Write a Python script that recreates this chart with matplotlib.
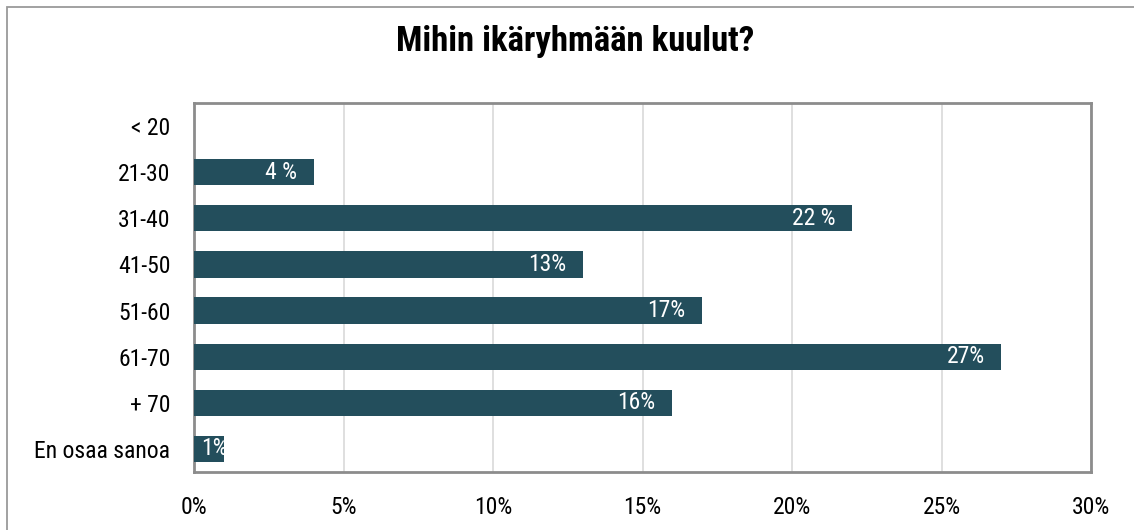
import matplotlib.pyplot as plt
from matplotlib.patches import Rectangle
from matplotlib import font_manager

# age groups and share of answers (%)
groups = ["< 20", "21-30", "31-40", "41-50", "51-60", "61-70", "+ 70", "En osaa sanoa"]
values = [0, 4, 22, 13, 17, 27, 16, 1]
labels = ["", "4 %", "22 %", "13%", "17%", "27%", "16%", "1%"]
ticks = [0, 5, 10, 15, 20, 25, 30]

# pick a narrow sans like Arial Narrow
names = {f.name for f in font_manager.fontManager.ttflist}
fam = "DejaVu Sans"
for cand in ["Liberation Sans Narrow", "Arial Narrow", "Roboto Condensed", "PT Sans Narrow", "Archivo Narrow"]:
    if cand in names:
        fam = cand
        break
plt.rcParams["font.family"] = [fam, "DejaVu Sans"]

fig = plt.figure(figsize=(11.34, 5.30), dpi=100)
ax = fig.add_axes([194 / 1134, 1 - 472 / 530, (1091 - 194) / 1134, (472 - 103) / 530])

# outer chart border
fig.patches.append(Rectangle((7 / 1134, -0.1), 1.2, 1 - 7 / 530 + 0.1, transform=fig.transFigure,
                             fill=False, edgecolor="#9a9a9a", linewidth=1.3))

ypos = list(range(len(groups)))
bars = ax.barh(ypos, values, height=0.57, color="#234e5c", zorder=3)
for b, v, t in zip(bars, values, labels):
    if not t:
        continue
    yc = b.get_y() + b.get_height() / 2
    if v >= 2:
        txt = ax.annotate(t, (v, yc), xytext=(-12, 0), textcoords="offset points",
                          ha="right", va="center", color="white", fontsize=17, zorder=4)
    else:
        # too narrow: Excel clips the label at the bar end
        txt = ax.annotate(t, (0, yc), xytext=(5, 0), textcoords="offset points",
                          ha="left", va="center", color="white", fontsize=17, zorder=4)
        txt.set_clip_path(b)

ax.set_xlim(0, 30)
ax.set_ylim(len(groups) - 0.5, -0.5)
ax.set_yticks(ypos)
ax.set_yticklabels(groups, fontsize=17)
ax.set_xticks(ticks)
ax.set_xticklabels([f"{t}%" for t in ticks], fontsize=17)
ax.tick_params(length=0)
ax.tick_params(axis="x", pad=17)
ax.tick_params(axis="y", pad=17)
ax.grid(axis="x", color="#d9d9d9", linewidth=1.2, zorder=0)
for s in ax.spines.values():
    s.set_color("#8c8c8c")
    s.set_linewidth(2)

fig.text(575 / 1134, 1 - 51 / 530, "Mihin ikäryhmään kuulut?", ha="center", va="baseline",
         fontsize=25, fontweight="bold")

fig.savefig("out.png", dpi=100)
